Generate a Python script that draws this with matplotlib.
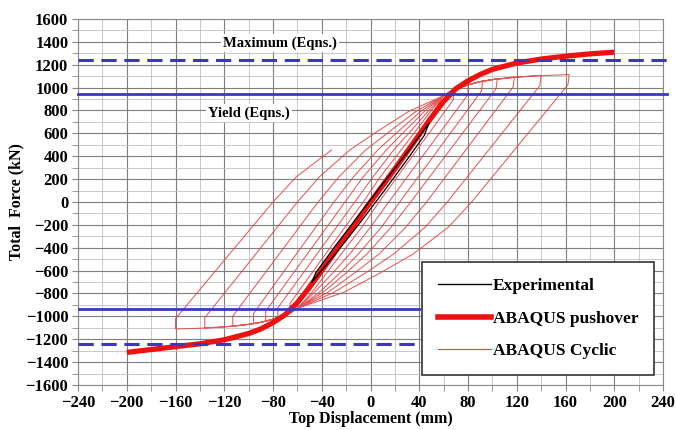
# hysteresis_plot.py
# Total force vs top displacement: experiment, pushover and cyclic FE results

import matplotlib
matplotlib.use('Agg')
import matplotlib.pyplot as plt
from matplotlib.ticker import MultipleLocator

# ABAQUS pushover envelope (mm, kN)
push_x = [-200, -180, -160, -140, -120, -100, -90, -80, -70, -60, -50, -40, -20, 0,
          20, 40, 50, 60, 70, 80, 90, 100, 120, 140, 160, 180, 200]
push_y = [-1315, -1290, -1265, -1240, -1205, -1150, -1110, -1055, -985, -880, -745, -600, -300, 0,
          290, 590, 740, 880, 990, 1060, 1115, 1160, 1215, 1250, 1275, 1295, 1310]

# experimental curve (small cycles only)
exp_x = [-48, -45, -30, -10, 10, 30, 48, 44, 30, 10, -10, -30, -48]
exp_y = [-700, -620, -400, -120, 160, 430, 690, 580, 370, 80, -200, -470, -700]

# ABAQUS cyclic response, one list per cycle
cyc_x = [
    [0, 15, 13, -15, -13, 30, 27, -30, -27, 45, 41, -45, -41, 56, 52, -56, -52],
    [-52, -20, 10, 40, 60, 64, 68, 68, 7, -7, -24, -36, -48, -60, -66],
    [-66, -6, 8, 25, 37, 49, 60, 70, 80, 80, 15, 0, -17, -31, -46, -60, -70, -76],
    [-76, -13, 2, 19, 33, 47, 60, 70, 80, 90, 92, 91, 24, 9, -10, -25, -42, -60, -70, -80, -86],
    [-86, -21, -6, 13, 28, 44, 60, 70, 80, 90, 100, 104, 103, 33, 17, -3, -20, -39, -60, -70,
     -80, -90, -96],
    [-96, -30, -14, 6, 23, 41, 60, 70, 80, 90, 100, 110, 118, 117, 46, 29, 7, -13, -35, -60,
     -70, -80, -90, -100, -113],
    [-113, -43, -26, -4, 16, 37, 60, 70, 80, 90, 100, 120, 140, 139, 63, 45, 19, -4, -30, -60,
     -70, -80, -90, -100, -120, -136],
    [-136, -60, -42, -17, 6, 31, 60, 70, 80, 90, 100, 120, 140, 163, 162, 83, 64, 35, 8, -22,
     -60, -70, -80, -90, -100, -120, -140, -160],
    [-160, -80, -61, -32],
]
cyc_y = [
    [0, 220, 160, -220, -160, 440, 370, -440, -370, 660, 580, -660, -580, 820, 740, -820, -740],
    [-740, -270, 160, 600, 930, 960, 985, 895, 0, -219, -455, -620, -790, -930, -975],
    [-885, 0, 219, 455, 620, 790, 930, 985, 1030, 940, 0, -219, -455, -620, -790, -930, -985, -1015],
    [-925, 0, 219, 455, 620, 790, 930, 985, 1025, 1052, 1060, 970, 0, -219, -455, -620, -790,
     -930, -985, -1025, -1045],
    [-955, 0, 219, 455, 620, 790, 930, 985, 1025, 1052, 1070, 1080, 990, 0, -219, -455, -620,
     -790, -930, -985, -1025, -1052, -1065],
    [-975, 0, 219, 455, 620, 790, 930, 985, 1025, 1052, 1070, 1083, 1095, 1005, 0, -219, -455,
     -620, -790, -930, -985, -1025, -1052, -1070, -1088],
    [-998, 0, 219, 455, 620, 790, 930, 985, 1025, 1052, 1070, 1092, 1108, 1018, 0, -219, -455,
     -620, -790, -930, -985, -1025, -1052, -1070, -1092, -1102],
    [-1012, 0, 219, 455, 620, 790, 930, 985, 1025, 1052, 1070, 1092, 1104, 1115, 1025, 0, -219,
     -455, -620, -790, -930, -985, -1025, -1052, -1070, -1092, -1104, -1110],
    [-1020, 0, 219, 455],
]

# capacity from design equations (kN)
yield_force = 940
max_force = 1245

x_ticks = list(range(-240, 241, 40))
y_ticks = list(range(-1600, 1601, 200))

FONT = 'Liberation Serif'
BLUE = '#3a3ab8'


def plot_hysteresis():
    fig = plt.figure(figsize=(6.76, 4.30), dpi=100)
    ax = fig.add_axes([0.1154, 0.1047, 0.9808 - 0.1154, 0.9558 - 0.1047])

    # cyclic loops, drawn as one continuous path
    all_x, all_y = [], []
    for xs, ys in zip(cyc_x, cyc_y):
        all_x += xs
        all_y += ys
    ax.plot(all_x, all_y, color='#e23c3c', lw=0.75, alpha=0.85, zorder=2,
            solid_joinstyle='round')
    ax.plot(push_x, push_y, color='#ee1111', lw=3.8, solid_capstyle='butt', zorder=3)
    ax.plot(exp_x, exp_y, color='black', lw=0.9, zorder=3.5)

    # design equation lines (negative side stops at the legend)
    ax.plot([-240, 243], [max_force, max_force], color=BLUE, lw=2.2, dashes=(5, 2.5),
            clip_on=False, zorder=4)
    ax.plot([-240, 243], [yield_force, yield_force], color=BLUE, lw=2.0, clip_on=False, zorder=4)
    ax.plot([-240, 40], [-max_force, -max_force], color=BLUE, lw=2.2, dashes=(5, 2.5), zorder=4)
    ax.plot([-240, 40], [-yield_force, -yield_force], color=BLUE, lw=2.0, zorder=4)

    ax.text(-74, 1390, 'Maximum (Eqns.)', ha='center', va='center', fontsize=10.5,
            fontweight='bold', family=FONT, zorder=5,
            bbox=dict(facecolor='white', edgecolor='none', pad=1.5))
    ax.text(-100, 778, 'Yield (Eqns.)', ha='center', va='center', fontsize=10.5,
            fontweight='bold', family=FONT, zorder=5,
            bbox=dict(facecolor='white', edgecolor='none', pad=1.5))

    ax.set_xlim(-240, 240)
    ax.set_ylim(-1600, 1600)
    ax.set_xticks(x_ticks)
    ax.set_yticks(y_ticks)
    ax.xaxis.set_minor_locator(MultipleLocator(20))
    ax.yaxis.set_minor_locator(MultipleLocator(100))
    ax.grid(which='major', color='#7e7e7e', lw=0.8)
    ax.grid(which='minor', color='#c0c0c0', lw=0.6)
    ax.set_axisbelow(True)
    ax.tick_params(which='both', direction='out', length=4, color='#888888', pad=3)
    for s in ax.spines.values():
        s.set_color('#8a8a8a')
        s.set_linewidth(0.8)

    for lab in ax.get_xticklabels() + ax.get_yticklabels():
        lab.set_fontfamily(FONT)
        lab.set_fontweight('bold')
        lab.set_fontsize(12)

    ax.set_xlabel('Top Displacement (mm)', family=FONT, fontweight='bold', fontsize=11.5, labelpad=0)
    ax.set_ylabel('Total  Force (kN)', family=FONT, fontweight='bold', fontsize=11.5, labelpad=1)

    # legend with proxy handles
    h1, = ax.plot([], [], color='black', lw=1.0)
    h2, = ax.plot([], [], color='#ee1111', lw=4.0)
    h3, = ax.plot([], [], color='#e23c3c', lw=0.8)
    leg = ax.legend([h1, h2, h3], ['Experimental', 'ABAQUS pushover', 'ABAQUS Cyclic'],
                    loc='lower right', bbox_to_anchor=(0.985, 0.027), fancybox=False,
                    framealpha=1, edgecolor='#333333', handlelength=3.1, handletextpad=0.1,
                    labelspacing=0.95, borderpad=0.9, borderaxespad=0,
                    prop={'family': FONT, 'weight': 'bold', 'size': 12.5})
    leg.get_frame().set_linewidth(1.2)
    leg.set_zorder(6)

    fig.savefig('out.png', dpi=100)


if __name__ == "__main__":
    plot_hysteresis()
